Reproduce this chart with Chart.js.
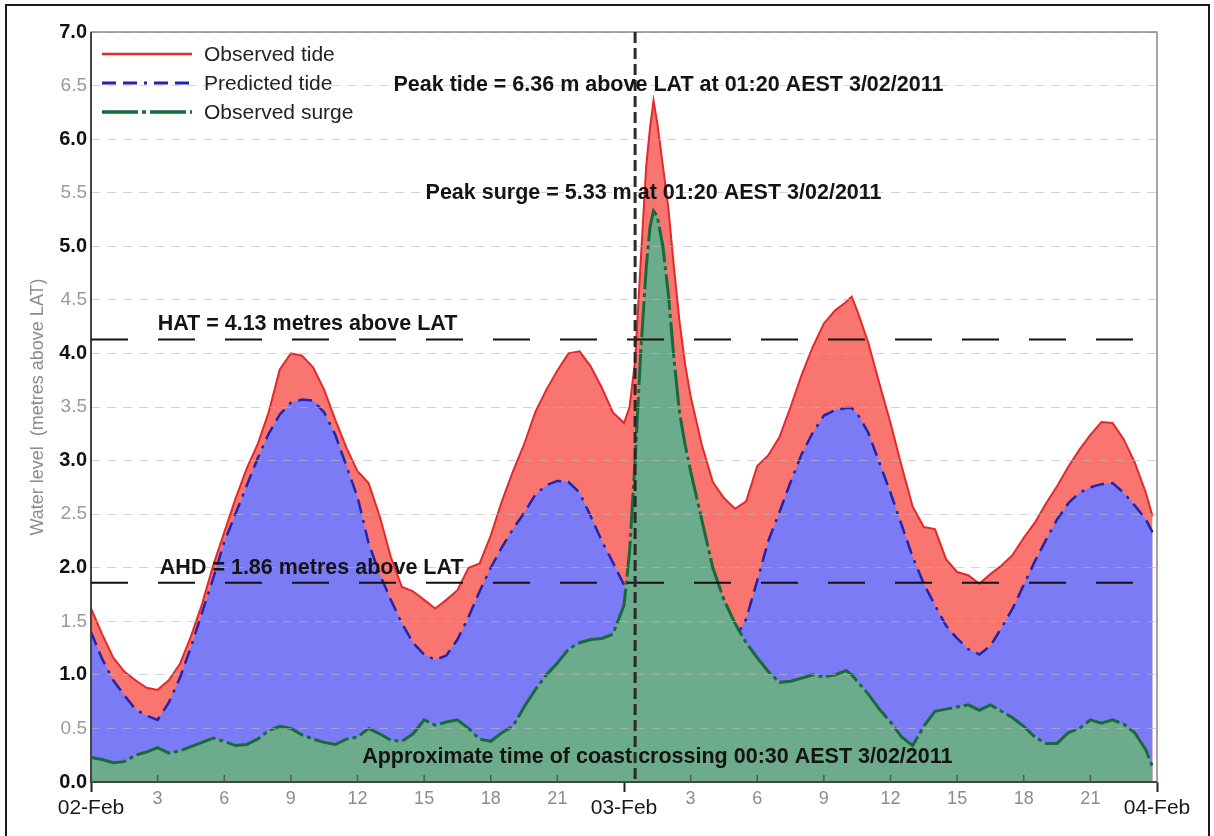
<!DOCTYPE html>
<html>
<head>
<meta charset="utf-8">
<title>Water level, 2-4 February 2011</title>
<script src="https://cdn.jsdelivr.net/npm/chart.js@4.4.0/dist/chart.umd.min.js"></script>
<style>
    html, body { margin: 0; padding: 0; background: #fff; }
    #wrap { position: relative; width: 1214px; height: 836px; overflow: hidden; }
    #frame { position: absolute; left: 5px; top: 4px; width: 1201px; height: 850px; border: 2px solid #1a1a1a; pointer-events: none; }
</style>
</head>
<body>
<div id="wrap">
    <canvas id="tideChart" width="1214" height="836"></canvas>
    <div id="frame"></div>
</div>
<script>
/* hours since 00:00 AEST 2 Feb 2011 */
const hours = [
    0, 0.5, 1, 1.5, 2, 2.5, 3, 3.5, 4, 4.5, 5, 5.5,
    6, 6.5, 7, 7.5, 8, 8.5, 9, 9.5, 10, 10.5, 11, 11.5,
    12, 12.5, 13, 13.5, 14, 14.5, 15, 15.5, 16, 16.5, 17, 17.5,
    18, 18.5, 19, 19.5, 20, 20.5, 21, 21.5, 22, 22.5, 23, 23.5,
    24, 24.25, 24.5, 24.75, 25, 25.17, 25.33, 25.5, 25.75, 26, 26.25, 26.5, 26.75, 27,
    27.5, 28, 28.5, 29, 29.5, 30, 30.5, 31, 31.5, 32, 32.5, 33, 33.5, 34, 34.25, 34.5, 35, 35.5,
    36, 36.5, 37, 37.5, 38, 38.5, 39, 39.5, 40, 40.5, 41, 41.5,
    42, 42.5, 43, 43.5, 44, 44.5, 45, 45.5, 46, 46.5, 47, 47.5, 47.8
];

/* metres above LAT */
const observedTide = [
    1.62, 1.38, 1.16, 1.03, 0.95, 0.88, 0.86, 0.95, 1.10, 1.36, 1.66, 2.02,
    2.33, 2.64, 2.92, 3.15, 3.45, 3.85, 4.00, 3.98, 3.87, 3.66, 3.38, 3.12,
    2.90, 2.79, 2.48, 2.10, 1.82, 1.78, 1.70, 1.62, 1.70, 1.79, 2.00, 2.04,
    2.30, 2.62, 2.90, 3.15, 3.45, 3.66, 3.84, 4.00, 4.02, 3.88, 3.68, 3.45,
    3.35, 3.50, 3.93, 4.85, 5.75, 6.10, 6.36, 6.15, 5.75, 5.35, 4.80, 4.30, 3.90, 3.60,
    3.15, 2.80, 2.65, 2.55, 2.62, 2.95, 3.05, 3.22, 3.50, 3.80, 4.06, 4.28, 4.40, 4.48, 4.53, 4.40, 4.10, 3.72,
    3.35, 2.95, 2.57, 2.38, 2.36, 2.08, 1.96, 1.93, 1.85, 1.94, 2.02, 2.12,
    2.28, 2.42, 2.60, 2.76, 2.94, 3.10, 3.24, 3.36, 3.35, 3.20, 2.98, 2.70, 2.48
];

const predictedTide = [
    1.40, 1.15, 0.95, 0.81, 0.68, 0.62, 0.58, 0.74, 0.97, 1.26, 1.58, 1.90,
    2.24, 2.50, 2.76, 3.02, 3.25, 3.43, 3.54, 3.57, 3.56, 3.45, 3.24, 2.95,
    2.66, 2.23, 1.94, 1.70, 1.48, 1.30, 1.19, 1.14, 1.18, 1.33, 1.54, 1.78,
    2.00, 2.19, 2.36, 2.51, 2.68, 2.77, 2.81, 2.80, 2.70, 2.48, 2.25, 2.05,
    1.84, 1.73, 1.62, 1.53, 1.46, 1.42, 1.39, 1.36, 1.33, 1.31, 1.30, 1.29, 1.28, 1.28,
    1.27, 1.27, 1.28, 1.34, 1.52, 1.88, 2.25, 2.52, 2.80, 3.06, 3.26, 3.42, 3.47, 3.49, 3.49, 3.44, 3.26, 2.98,
    2.70, 2.40, 2.10, 1.85, 1.65, 1.46, 1.34, 1.24, 1.19, 1.27, 1.44, 1.62,
    1.84, 2.06, 2.26, 2.45, 2.60, 2.70, 2.75, 2.78, 2.79, 2.70, 2.58, 2.45, 2.33
];

const observedSurge = [
    0.23, 0.21, 0.18, 0.19, 0.25, 0.28, 0.32, 0.27, 0.29, 0.33, 0.37, 0.41,
    0.38, 0.34, 0.35, 0.40, 0.48, 0.52, 0.50, 0.44, 0.40, 0.37, 0.35, 0.40,
    0.42, 0.50, 0.45, 0.39, 0.38, 0.45, 0.58, 0.53, 0.56, 0.58, 0.50, 0.40,
    0.38, 0.46, 0.52, 0.70, 0.86, 1.00, 1.11, 1.24, 1.30, 1.33, 1.34, 1.38,
    1.65, 2.15, 3.00, 4.00, 4.80, 5.18, 5.33, 5.28, 5.00, 4.55, 3.95, 3.45, 3.15, 2.90,
    2.45, 2.00, 1.70, 1.48, 1.30, 1.16, 1.03, 0.93, 0.94, 0.97, 1.00, 0.98, 1.00, 1.04, 1.00, 0.94, 0.82, 0.68,
    0.56, 0.42, 0.34, 0.52, 0.66, 0.68, 0.70, 0.72, 0.67, 0.72, 0.66, 0.60,
    0.52, 0.42, 0.36, 0.36, 0.46, 0.50, 0.58, 0.55, 0.58, 0.54, 0.46, 0.30, 0.14
];

const dayLabels = ["02-Feb", "03-Feb", "04-Feb"];
const seriesNames = ["Observed tide", "Predicted tide", "Observed surge"];

const HAT = 4.13;
const AHD = 1.86;
const coastCrossing = 24.5; // 00:30 on 3 Feb

const notes = [
    { text: "Peak tide = 6.36 m above LAT at 01:20 AEST 3/02/2011", h: 26.0, v: 6.5, align: "center" },
    { text: "Peak surge = 5.33 m at 01:20 AEST 3/02/2011", h: 25.33, v: 5.5, align: "center" },
    { text: "HAT = " + HAT + " metres above LAT", h: 3.0, v: 4.27, align: "left" },
    { text: "AHD = " + AHD + " metres above LAT", h: 3.1, v: 2.0, align: "left" },
    { text: "Approximate time of coast crossing 00:30 AEST 3/02/2011", h: 25.5, v: 0.23, align: "center" }
];

const points = (vals) => hours.map((h, i) => ({ x: h, y: vals[i] }));
const isWhole = (c) => c.tick !== undefined && Number.isInteger(c.tick.value);
const isDay = (c) => c.tick !== undefined && c.tick.value % 24 === 0;

Chart.defaults.font.family = '"Liberation Sans", Arial, sans-serif';

/* datum lines, crossing marker, notes, legend and frame */
const overlay = {
    id: "overlay",
    afterDraw(chart) {
        const { ctx, chartArea: a } = chart;
        const x = chart.scales.x;
        const y = chart.scales.y;
        ctx.save();

        ctx.strokeStyle = "#888";
        ctx.lineWidth = 1.5;
        ctx.strokeRect(a.left, a.top, a.right - a.left, a.bottom - a.top);
        ctx.strokeStyle = "#444";
        ctx.lineWidth = 2;
        ctx.beginPath();
        ctx.moveTo(a.left, a.top);
        ctx.lineTo(a.left, a.bottom);
        ctx.lineTo(a.right, a.bottom);
        ctx.stroke();

        // small inward ticks every 3 hours
        ctx.strokeStyle = "#555";
        ctx.lineWidth = 1.5;
        x.ticks.forEach((t) => {
            if (t.value % 24 === 0) return;
            const px = x.getPixelForValue(t.value);
            ctx.beginPath();
            ctx.moveTo(px, a.bottom);
            ctx.lineTo(px, a.bottom - 7);
            ctx.stroke();
        });

        ctx.strokeStyle = "#111";
        ctx.lineWidth = 2;
        ctx.setLineDash([37, 30]);
        [HAT, AHD].forEach((v) => {
            const py = y.getPixelForValue(v);
            ctx.beginPath();
            ctx.moveTo(a.left, py);
            ctx.lineTo(a.right, py);
            ctx.stroke();
        });

        const cx = x.getPixelForValue(coastCrossing);
        ctx.strokeStyle = "#2a2a2a";
        ctx.lineWidth = 3;
        ctx.setLineDash([11, 5]);
        ctx.beginPath();
        ctx.moveTo(cx, a.top);
        ctx.lineTo(cx, a.bottom);
        ctx.stroke();
        ctx.setLineDash([]);

        ctx.fillStyle = "#141414";
        ctx.font = 'bold 21.5px "Liberation Sans", Arial, sans-serif';
        ctx.textBaseline = "middle";
        notes.forEach((n) => {
            ctx.textAlign = n.align;
            ctx.fillText(n.text, x.getPixelForValue(n.h), y.getPixelForValue(n.v));
        });

        // legend in the top left corner of the plot
        ctx.font = '21px "Liberation Sans", Arial, sans-serif';
        ctx.textAlign = "left";
        chart.data.datasets.forEach((ds, i) => {
            const ly = a.top + 22 + i * 29;
            ctx.strokeStyle = ds.borderColor;
            ctx.lineWidth = ds.borderWidth + 0.5;
            ctx.setLineDash(ds.borderDash || []);
            ctx.beginPath();
            ctx.moveTo(a.left + 11, ly);
            ctx.lineTo(a.left + 101, ly);
            ctx.stroke();
            ctx.setLineDash([]);
            ctx.fillStyle = "#222";
            ctx.fillText(ds.label, a.left + 113, ly + 1);
        });
        ctx.restore();
    }
};

const config = {
    type: "line",
    data: {
        datasets: [
            {
                label: seriesNames[0],
                data: points(observedTide),
                borderColor: "#e3292b",
                backgroundColor: "#f8766f",
                borderWidth: 2,
                fill: "origin",
                order: 3
            },
            {
                label: seriesNames[1],
                data: points(predictedTide),
                borderColor: "#2323ad",
                backgroundColor: "#7b7bf6",
                borderWidth: 2.5,
                borderDash: [14, 7, 14, 7, 3, 7],
                fill: "origin",
                order: 2
            },
            {
                label: seriesNames[2],
                data: points(observedSurge),
                borderColor: "#176a3a",
                backgroundColor: "#6cab8b",
                borderWidth: 3,
                borderDash: [36, 4, 4, 4],
                fill: "origin",
                order: 1
            }
        ]
    },
    options: {
        responsive: false,
        animation: false,
        layout: { padding: { top: 32, right: 57, left: 0, bottom: 0 } },
        elements: { point: { radius: 0 }, line: { tension: 0 } },
        plugins: {
            legend: { display: false },
            tooltip: { enabled: false }
        },
        scales: {
            x: {
                type: "linear",
                min: 0,
                max: 48,
                ticks: {
                    stepSize: 3,
                    autoSkip: false,
                    maxRotation: 0,
                    padding: -4,
                    // day names sit a little lower than the hour numbers
                    color: (c) => (isDay(c) ? "#1a1a1a" : "#8c8c8c"),
                    font: (c) => (isDay(c) ? { size: 21, lineHeight: 1.9 } : { size: 18, lineHeight: 1.2 }),
                    callback: (v) => (v % 24 ? String(v % 24) : dayLabels[v / 24])
                },
                grid: {
                    drawOnChartArea: false,
                    tickLength: 10,
                    tickWidth: 2,
                    tickColor: (c) => (isDay(c) ? "#222" : "rgba(0,0,0,0)")
                },
                border: { display: false },
                afterFit: (s) => { s.height = 54; }
            },
            y: {
                min: 0,
                max: 7,
                ticks: {
                    stepSize: 0.5,
                    padding: 4,
                    callback: (v) => v.toFixed(1),
                    color: (c) => (isWhole(c) ? "#111" : "#9a9a9a"),
                    font: (c) => (isWhole(c) ? { size: 20, weight: "bold" } : { size: 19 })
                },
                grid: { color: "rgba(185,185,185,0.6)", drawTicks: false, z: 1 },
                border: { display: false, dash: [9, 7] },
                title: {
                    display: true,
                    text: "Water level  (metres above LAT)",
                    color: "#8c8c8c",
                    font: { size: 18 },
                    padding: { top: 27, bottom: 0 }
                },
                afterFit: (s) => { s.width = 91; }
            }
        }
    },
    plugins: [overlay]
};

const tideChart = new Chart(document.getElementById("tideChart"), config);
</script>
</body>
</html>
